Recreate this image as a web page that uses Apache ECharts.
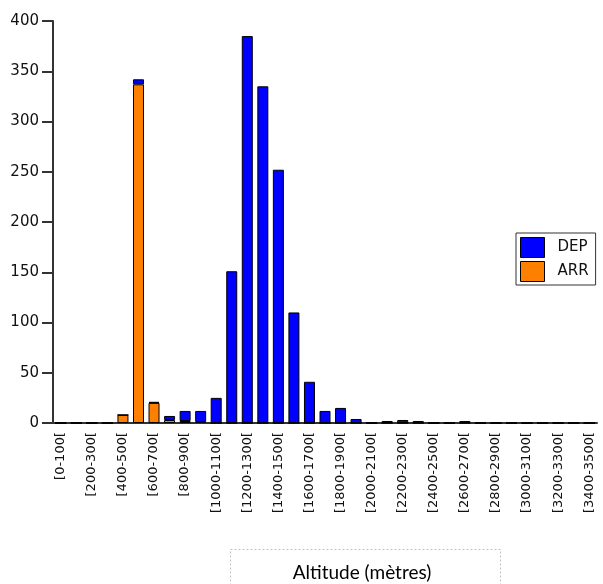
<!DOCTYPE html>
<html>
<head>
<meta charset="utf-8">
<script src="https://cdn.jsdelivr.net/npm/echarts@6/dist/echarts.min.js"></script>
<style>html,body{margin:0;padding:0;background:#fff}#c{width:603px;height:584px}</style>
</head>
<body>
<div id="c"></div>
<script>
var categories = ['[0-100[','[100-200[','[200-300[','[300-400[','[400-500[','[500-600[','[600-700[','[700-800[','[800-900[','[900-1000[',
  '[1000-1100[','[1100-1200[','[1200-1300[','[1300-1400[','[1400-1500[','[1500-1600[','[1600-1700[','[1700-1800[','[1800-1900[','[1900-2000[',
  '[2000-2100[','[2100-2200[','[2200-2300[','[2300-2400[','[2400-2500[','[2500-2600[','[2600-2700[','[2700-2800[','[2800-2900[','[2900-3000[',
  '[3000-3100[','[3100-3200[','[3200-3300[','[3300-3400[','[3400-3500['];
var depValues = [0,0,0,0,0,5,1,4,10,11, 25,151,385,335,252,110,41,12,15,4, 0,2,3,2,0,0,2,0,0,0, 0,0,0,0,0];
var arrValues = [0,0,0,0,8,337,20,3,2,1, 0,0,0,0,0,0,0,0,0,0, 0,0,0,0,0,0,0,0,0,0, 0,0,0,0,0];
var yTicks = {min:0, max:400, interval:50};
var axisTitle = 'Altitude (mètres)';

var chart = echarts.init(document.getElementById('c'));
chart.setOption({
  animation:false,
  backgroundColor:'#fff',
  grid:{left:53, right:6, top:21, bottom:161},
  legend:{
    data:['DEP','ARR'], orient:'vertical', left:516, top:233,
    icon:'rect', itemWidth:24, itemHeight:20, itemGap:3,
    padding:[4,7,3,4], borderColor:'#333', borderWidth:1,
    itemStyle:{borderColor:'#000', borderWidth:1},
    textStyle:{fontFamily:'DejaVu Sans', fontSize:15, color:'#111', padding:[0,0,0,8]}
  },
  xAxis:{
    type:'category', data:categories,
    axisLine:{lineStyle:{color:'#333', width:2}},
    axisTick:{show:false},
    axisLabel:{interval:1, rotate:90, margin:9, fontFamily:'DejaVu Sans', fontSize:13, color:'#111'}
  },
  yAxis:{
    type:'value', min:yTicks.min, max:yTicks.max, interval:yTicks.interval,
    splitLine:{show:false},
    axisLine:{show:true, lineStyle:{color:'#333', width:2}},
    axisTick:{show:true, length:11, lineStyle:{color:'#333', width:2}},
    axisLabel:{margin:14, fontFamily:'DejaVu Sans', fontSize:15, color:'#111'}
  },
  series:[
    {name:'ARR', type:'bar', stack:'s', data:arrValues, barWidth:11,
     itemStyle:{color:'#ff8000', borderColor:'#000', borderWidth:1}},
    {name:'DEP', type:'bar', stack:'s', data:depValues, barWidth:11,
     itemStyle:{color:'#0000ff', borderColor:'#000', borderWidth:1}}
  ],
  graphic:[
    {type:'rect', shape:{x:230.5, y:549.5, width:270, height:40},
     style:{fill:'none', stroke:'#c0c0c0', lineWidth:1, lineDash:[2,2]}},
    {type:'text', x:362, y:573, style:{text:axisTitle, font:'19px Lato', fill:'#000', align:'center', verticalAlign:'middle'}}
  ]
});
</script>
</body>
</html>
